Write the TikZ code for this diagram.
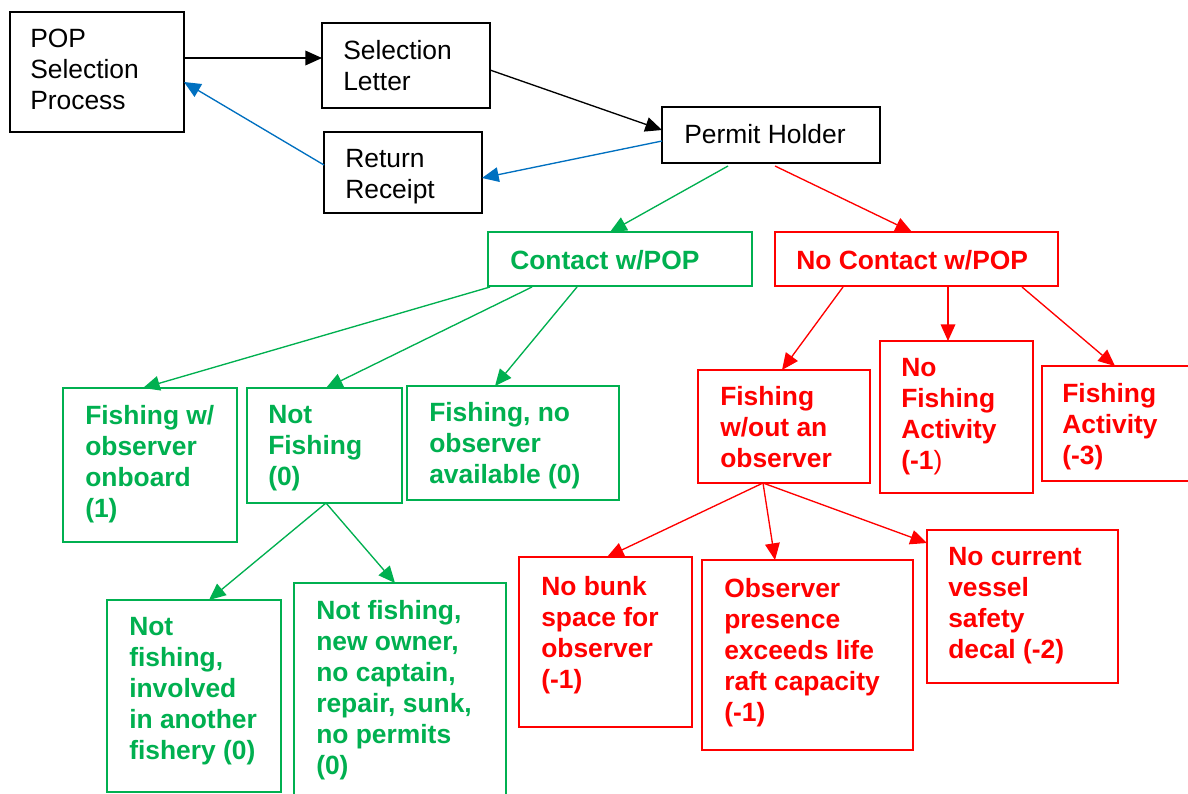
\documentclass[tikz,border=0pt]{standalone}
\usepackage{fontspec}
\setmainfont{Liberation Sans}
\usetikzlibrary{arrows.meta,calc}
\definecolor{pgreen}{HTML}{00B050}
\definecolor{pred}{HTML}{FF0000}
\definecolor{pblue}{HTML}{0070C0}
\tikzset{
  box/.style={draw, rectangle, inner sep=0pt, outer sep=0pt, anchor=north west},
  kbox/.style={box, draw=black, line width=1.1pt},
  gbox/.style={box, draw=pgreen, line width=1.5pt},
  rbox/.style={box, draw=pred, line width=1.5pt},
  txt/.style={anchor=north west, inner sep=0pt, align=left, font=\fontsize{19.8}{23.25}\selectfont},
  gtxt/.style={txt, text=pgreen, font=\fontsize{19.8}{23.25}\selectfont\bfseries},
  rtxt/.style={txt, text=pred, font=\fontsize{19.8}{23.25}\selectfont\bfseries},
  arr/.style={-{Triangle[length=12.5pt,width=11pt]}, line width=1pt},
  karr/.style={arr, draw=black},
  barr/.style={arr, draw=pblue, fill=pblue},
  garr/.style={arr, draw=pgreen, fill=pgreen},
  rarr/.style={arr, draw=pred, fill=pred},
}
\begin{document}
\begin{tikzpicture}[x=0.75pt, y=-0.75pt]
\fill[white] (0,0) rectangle (1188,793);
\clip (0,0) rectangle (1188,793);
% black boxes
\node[kbox, minimum width=174*0.75pt, minimum height=120*0.75pt] (pop) at (10,12) {};
\node[txt] (popt) at (30,29) {POP\\Selection\\Process};
\node[kbox, minimum width=168*0.75pt, minimum height=85*0.75pt] (sel) at (322,23) {};
\node[txt] (selt) at (343,40) {Selection\\Letter};
\node[kbox, minimum width=158*0.75pt, minimum height=81*0.75pt] (ret) at (324,132) {};
\node[txt] (rett) at (345,149) {Return\\Receipt};
\node[kbox, minimum width=218*0.75pt, minimum height=56*0.75pt] (ph) at (662,107) {};
\node[txt] (pht) at (684,124) {Permit Holder};
% green boxes
\node[gbox, minimum width=264*0.75pt, minimum height=54*0.75pt] (ct) at (488,232) {};
\node[gtxt] (ctt) at (510,250) {Contact w/POP};
\node[gbox, minimum width=174*0.75pt, minimum height=154*0.75pt] (fw) at (63,388) {};
\node[gtxt] (fwt) at (85,405) {Fishing w/\\observer\\onboard\\(1)};
\node[gbox, minimum width=155*0.75pt, minimum height=115*0.75pt] (nf) at (247,388) {};
\node[gtxt] (nft) at (268,405) {Not\\Fishing\\(0)};
\node[gbox, minimum width=212*0.75pt, minimum height=114*0.75pt] (fno) at (407,386) {};
\node[gtxt] (fnot) at (429,402) {Fishing, no\\observer\\available (0)};
\node[gbox, minimum width=174*0.75pt, minimum height=192*0.75pt] (nfa1) at (107,600) {};
\node[gtxt] (nfa1t) at (129,617) {Not\\fishing,\\involved\\in another\\fishery (0)};
\node[gbox, minimum width=212*0.75pt, minimum height=230*0.75pt] (nfa2) at (294,583) {};
\node[gtxt] (nfa2t) at (316,600) {Not fishing,\\new owner,\\no captain,\\repair, sunk,\\no permits\\(0)};
% red boxes
\node[rbox, minimum width=283*0.75pt, minimum height=54*0.75pt] (nc) at (775,232) {};
\node[rtxt] (nct) at (796,250) {No Contact w/POP};
\node[rbox, minimum width=172*0.75pt, minimum height=113*0.75pt] (fwo) at (698,370) {};
\node[rtxt] (fwot) at (720,386) {Fishing\\w/out an\\observer};
\node[rbox, minimum width=153*0.75pt, minimum height=152*0.75pt] (nfact) at (880,341) {};
\node[rtxt] (nfactt) at (901,358) {No\\Fishing\\Activity\\(-1\textmd{)}};
\node[rbox, minimum width=160*0.75pt, minimum height=115*0.75pt] (fact) at (1042,366) {};
\node[rtxt] (factt) at (1062,383) {Fishing\\Activity\\(-3)};
\node[rbox, minimum width=173*0.75pt, minimum height=170*0.75pt] (nb) at (519,557) {};
\node[rtxt] (nbt) at (541,576) {No bunk\\space for\\observer\\(-1)};
\node[rbox, minimum width=211*0.75pt, minimum height=190*0.75pt] (op) at (702,560) {};
\node[rtxt] (opt) at (724,578) {Observer\\presence\\exceeds life\\raft capacity\\(-1)};
\node[rbox, minimum width=191*0.75pt, minimum height=153*0.75pt] (ncv) at (927,530) {};
\node[rtxt] (ncvt) at (948,547) {No current\\vessel\\safety\\decal (-2)};
% arrows
\draw[karr] ($(pop.north east)+(0,46)$) -- ($(sel.north west)+(0,35)$);
\draw[karr] ($(sel.north east)+(0,47)$) -- ($(ph.north west)+(0,23)$);
\draw[barr] ($(ph.north west)+(0,34)$) -- ($(ret.north east)+(0,46)$);
\draw[barr] ($(ret.north west)+(0,33)$) -- ($(pop.north east)+(0,70)$);
\draw[garr] ($(ph.south west)+(66,3)$) -- ($(ct.north west)+(122,0)$);
\draw[rarr] ($(ph.south west)+(113,3)$) -- ($(nc.north west)+(137,0)$);
\draw[garr] ($(ct.south west)+(2,1)$) -- ($(fw.north west)+(80,0)$);
\draw[garr] ($(ct.south west)+(44,1)$) -- ($(nf.north west)+(79,0)$);
\draw[garr] ($(ct.south west)+(89,1)$) -- ($(fno.north west)+(88,0)$);
\draw[garr] ($(nf.south west)+(79,0)$) -- ($(nfa1.north west)+(102,0)$);
\draw[garr] ($(nf.south west)+(79,0)$) -- ($(nfa2.north west)+(101,0)$);
\draw[rarr] ($(nc.south west)+(68,1)$) -- ($(fwo.north west)+(84,0)$);
\draw[rarr] ($(nc.south west)+(173,1)$) -- ($(nfact.north west)+(68,0)$);
\draw[rarr] ($(nc.south west)+(247,1)$) -- ($(fact.north west)+(73,0)$);
\draw[rarr] ($(fwo.south west)+(65,0)$) -- ($(nb.north west)+(88,0)$);
\draw[rarr] ($(fwo.south west)+(65,0)$) -- ($(op.north west)+(73,0)$);
\draw[rarr] ($(fwo.south west)+(65,0)$) -- ($(ncv.north west)+(0,13)$);
\end{tikzpicture}
\end{document}
